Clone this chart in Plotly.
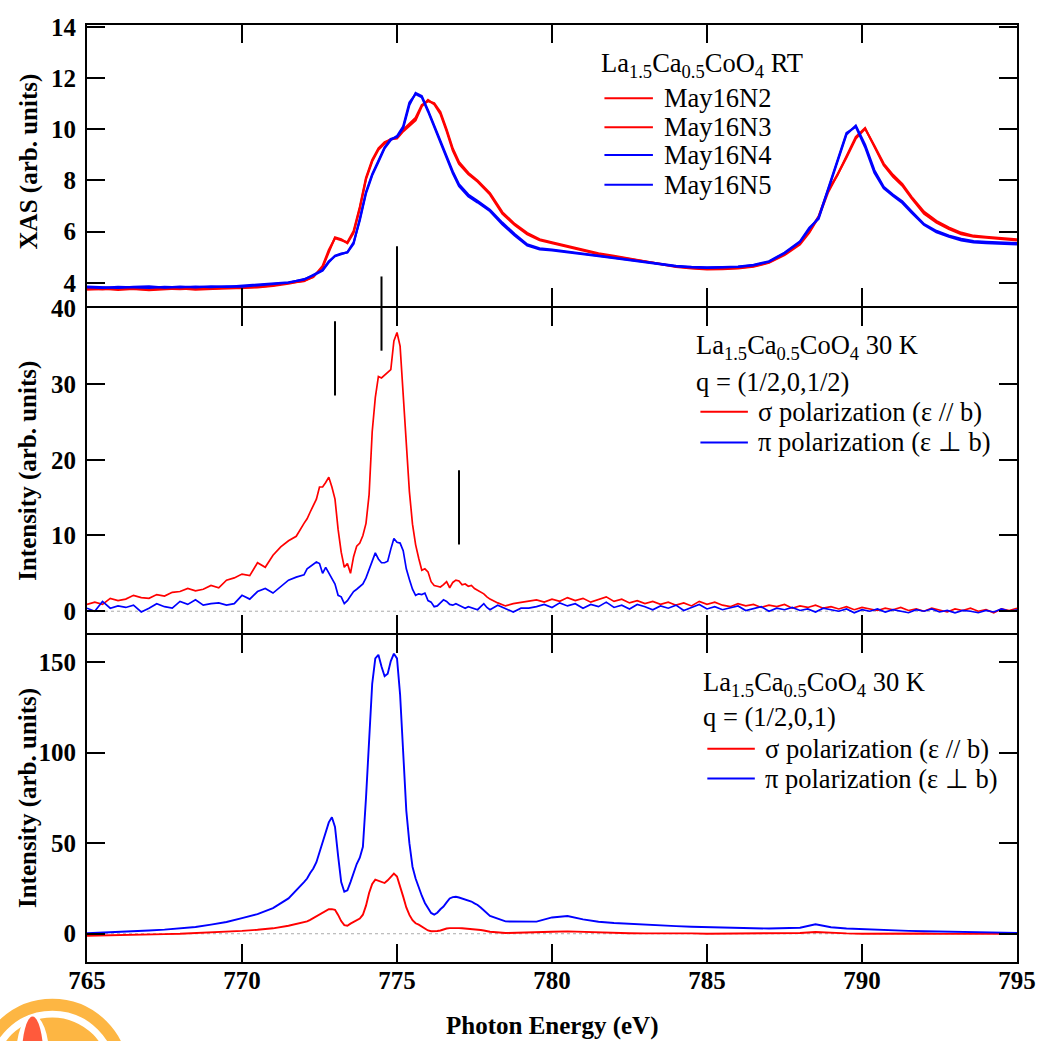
import numpy as np
import plotly.graph_objects as go
from plotly.subplots import make_subplots

# ---------------- XAS (room temperature), four scans ----------------
E_xas = [765.0, 765.5, 766.0, 766.5, 767.0, 767.5, 768.0, 768.5, 769.0, 769.5,
         770.0, 770.5, 771.0, 771.5, 772.0, 772.3, 772.6, 772.8, 773.0, 773.2,
         773.4, 773.6, 773.8, 774.0, 774.2, 774.4, 774.6, 774.8, 775.0, 775.2,
         775.4, 775.6, 775.8, 776.0, 776.2, 776.4, 776.6, 776.8, 777.0, 777.3,
         777.6, 778.0, 778.4, 778.8, 779.2, 779.6, 780.0, 780.5, 781.0, 781.5,
         782.0, 782.5, 783.0, 783.5, 784.0, 784.5, 785.0, 785.5, 786.0, 786.5,
         787.0, 787.5, 788.0, 788.3, 788.6, 788.9, 789.2, 789.5, 789.8, 790.1,
         790.4, 790.7, 791.0, 791.3, 791.6, 792.0, 792.4, 792.8, 793.2, 793.6,
         794.0, 794.5, 795.0]

xas_N2 = [3.76, 3.74, 3.78, 3.75, 3.74, 3.77, 3.75, 3.78, 3.77, 3.80,
          3.79, 3.84, 3.90, 4.00, 4.06, 4.24, 4.60, 5.20, 5.78, 5.70,
          5.55, 5.95, 6.90, 8.05, 8.75, 9.20, 9.45, 9.62, 9.64, 9.92,
          10.15, 10.35, 10.90, 11.15, 10.98, 10.60, 9.93, 9.17, 8.65, 8.25,
          7.95, 7.45, 6.70, 6.25, 5.90, 5.66, 5.55, 5.40, 5.25, 5.12,
          5.02, 4.92, 4.82, 4.72, 4.64, 4.58, 4.55, 4.56, 4.58, 4.65,
          4.80, 5.12, 5.55, 6.00, 6.60, 7.60, 8.20, 8.95, 9.70, 10.05,
          9.30, 8.60, 8.15, 7.80, 7.30, 6.70, 6.35, 6.10, 5.90, 5.80,
          5.76, 5.72, 5.66]

xas_N3 = [3.73, 3.77, 3.72, 3.76, 3.71, 3.74, 3.78, 3.73, 3.76, 3.78,
          3.81, 3.82, 3.88, 3.97, 4.08, 4.22, 4.66, 5.28, 5.74, 5.66,
          5.58, 6.02, 6.96, 8.10, 8.80, 9.25, 9.50, 9.60, 9.68, 9.98,
          10.20, 10.45, 10.95, 11.10, 11.02, 10.68, 10.00, 9.25, 8.72, 8.30,
          8.00, 7.50, 6.76, 6.30, 5.95, 5.70, 5.58, 5.44, 5.28, 5.15,
          5.05, 4.95, 4.84, 4.74, 4.62, 4.56, 4.52, 4.53, 4.56, 4.63,
          4.78, 5.08, 5.50, 5.96, 6.56, 7.52, 8.18, 8.90, 9.64, 10.02,
          9.36, 8.66, 8.22, 7.86, 7.36, 6.78, 6.42, 6.16, 5.96, 5.84,
          5.80, 5.74, 5.70]

xas_N4 = [3.82, 3.80, 3.84, 3.81, 3.80, 3.84, 3.82, 3.85, 3.83, 3.86,
          3.85, 3.90, 3.94, 4.00, 4.14, 4.28, 4.47, 4.80, 5.06, 5.14,
          5.18, 5.52, 6.50, 7.55, 8.25, 8.75, 9.30, 9.62, 9.70, 10.05,
          10.95, 11.42, 11.30, 10.75, 10.15, 9.50, 8.90, 8.35, 7.85, 7.45,
          7.20, 6.85, 6.35, 5.90, 5.50, 5.35, 5.30, 5.22, 5.14, 5.06,
          4.98, 4.90, 4.82, 4.74, 4.66, 4.62, 4.60, 4.61, 4.63, 4.70,
          4.84, 5.18, 5.62, 6.15, 6.50, 7.60, 8.70, 9.80, 10.15, 9.40,
          8.40, 7.75, 7.45, 7.18, 6.80, 6.30, 6.03, 5.85, 5.72, 5.63,
          5.60, 5.58, 5.55]

xas_N5 = [3.85, 3.83, 3.80, 3.84, 3.86, 3.81, 3.85, 3.82, 3.86, 3.84,
          3.88, 3.92, 3.96, 4.02, 4.12, 4.30, 4.50, 4.84, 5.04, 5.12,
          5.20, 5.58, 6.44, 7.50, 8.20, 8.72, 9.26, 9.58, 9.74, 10.12,
          11.05, 11.38, 11.25, 10.70, 10.08, 9.44, 8.84, 8.28, 7.78, 7.38,
          7.14, 6.80, 6.28, 5.84, 5.46, 5.30, 5.27, 5.20, 5.12, 5.04,
          4.96, 4.88, 4.80, 4.72, 4.64, 4.60, 4.58, 4.60, 4.62, 4.68,
          4.82, 5.15, 5.60, 6.10, 6.55, 7.65, 8.76, 9.86, 10.10, 9.30,
          8.30, 7.70, 7.40, 7.12, 6.74, 6.26, 5.98, 5.80, 5.66, 5.58,
          5.55, 5.52, 5.50]

# ---------------- RXS at q = (1/2,0,1/2), 30 K ----------------
# scan grid: coarse tails, 0.1 eV steps across the L3 edge
E_half = np.round(np.concatenate([np.arange(765.0, 771.9, 0.25),
                                  np.arange(772.0, 778.05, 0.1),
                                  np.arange(778.25, 795.01, 0.25)]), 2)

sig_half = [
    # 765.00 - 771.75
    0.9, 1.2, 0.9, 1.7, 1.4, 1.6, 2.1, 1.8, 1.7, 2.2,
    2.0, 2.5, 2.6, 3.0, 2.7, 2.9, 3.4, 3.1, 4.1, 4.4,
    4.9, 4.7, 6.4, 5.8, 7.4, 8.5, 9.3, 9.9,
    # 772.0 - 778.0
    11.6, 12.2, 13.1, 14.0, 14.8, 16.4, 16.4, 17.0, 17.7, 16.4,
    14.8, 10.8, 7.8, 5.8, 6.3, 5.0, 7.2, 8.6, 9.0, 10.0,
    11.6, 15.4, 23.7, 28.2, 31.0, 30.8, 31.2, 31.5, 31.9, 35.7,
    36.8, 35.0, 28.8, 22.0, 15.8, 11.5, 8.8, 7.0, 5.4, 5.6,
    5.2, 3.9, 3.4, 3.3, 3.2, 3.5, 3.9, 3.1, 3.8, 4.1,
    4.0, 3.5, 3.6, 3.3, 3.4, 3.0, 2.8, 2.5, 2.3, 1.9,
    1.6,
    # 778.25 - 795.0
    1.1, 0.7, 1.0, 1.2, 1.4, 1.5, 1.2, 1.6, 1.3, 1.8,
    1.4, 1.7, 1.2, 1.5, 1.9, 1.3, 1.6, 1.1, 1.4, 1.0,
    1.3, 0.9, 1.2, 0.8, 1.1, 0.7, 1.3, 0.9, 1.2, 0.8,
    0.6, 1.0, 0.7, 0.9, 0.5, 0.8, 0.6, 0.9, 0.4, 0.7,
    0.5, 0.8, 0.4, 0.6, 0.3, 0.6, 0.2, 0.5, 0.3, 0.1,
    0.4, 0.2, 0.5, 0.1, 0.3, 0.0, 0.4, 0.2, -0.1, 0.3,
    0.1, 0.4, 0.0, 0.2, -0.2, 0.3, 0.1, 0.4]

pi_half = [
    # 765.00 - 771.75
    0.4, 0.0, 1.3, 0.4, 0.7, 0.5, 0.8, -0.1, 0.4, 1.0,
    0.6, 0.4, 1.3, 0.9, 1.5, 0.8, 1.0, 1.1, 0.8, 1.0,
    2.1, 1.6, 2.6, 3.0, 2.4, 3.3, 4.1, 4.5,
    # 772.0 - 778.0
    4.8, 5.6, 5.9, 6.2, 6.5, 6.3, 5.0, 5.8, 5.0, 4.3,
    3.6, 2.1, 1.9, 1.0, 1.4, 2.0, 2.6, 2.9, 3.2, 3.6,
    4.4, 5.6, 6.6, 7.7, 6.9, 6.4, 6.4, 6.6, 8.2, 9.6,
    9.1, 9.0, 8.0, 5.6, 4.2, 2.9, 2.1, 2.3, 2.2, 2.4,
    1.4, 1.2, 0.6, 0.7, 1.1, 1.5, 1.3, 0.9, 0.8, 1.0,
    0.8, 0.6, 0.4, 0.6, 0.5, 0.3, 0.2, 0.6, 1.0, 0.5,
    0.2,
    # 778.25 - 795.0
    0.8, 0.4, -0.1, 0.4, 0.4, 0.6, 0.9, 0.5, 1.1, 0.7,
    1.0, 0.4, 0.9, 0.6, 1.2, 0.5, 0.8, 0.3, 0.9, 0.6,
    0.2, 0.7, 0.4, 0.8, 0.1, 0.5, 0.9, 0.3, 0.6, 0.2,
    0.5, 0.7, 0.1, 0.4, 0.6, 0.0, 0.4, 0.2, 0.5, 0.1,
    0.3, -0.1, 0.4, 0.2, 0.0, 0.3, -0.2, 0.2, 0.0, 0.3,
    -0.1, 0.2, 0.0, -0.2, 0.2, 0.0, 0.3, -0.1, 0.1, -0.2,
    0.1, 0.0, -0.2, 0.1, -0.1, 0.3, 0.0, 0.2]

# ---------------- RXS at q = (1/2,0,1), 30 K ----------------
E_one = np.round(np.concatenate([np.arange(765.0, 771.6, 0.5),
                                 np.arange(772.0, 778.05, 0.1),
                                 np.arange(778.5, 795.01, 0.5)]), 2)

sig_one = [
    # 765.0 - 771.5
    -1.1, -1.0, -0.8, -0.6, -0.4, -0.2, 0.0, 0.3, 0.7, 1.1,
    1.6, 2.2, 3.0, 4.4,
    # 772.0 - 778.0
    6.2, 6.8, 7.7, 8.7, 9.7, 10.6, 11.8, 12.9, 13.5, 13.6,
    13.2, 10.4, 7.0, 4.8, 4.4, 5.6, 6.6, 7.6, 8.4, 10.5,
    15.5, 22.5, 27.5, 29.9, 29.2, 28.3, 28.0, 29.5, 31.5, 33.2,
    31.6, 26.5, 20.5, 14.5, 10.4, 7.5, 5.8, 5.0, 3.8, 2.6,
    1.8, 1.4, 1.3, 1.5, 1.8, 2.4, 2.9, 3.1, 3.2, 3.0,
    3.1, 3.0, 2.9, 2.8, 2.7, 2.6, 2.4, 2.1, 1.8, 1.4,
    1.1,
    # 778.5 - 795.0
    0.4, 0.5, 0.8, 1.1, 1.3, 1.0, 0.5, 0.4, 0.3, 0.2,
    0.3, 0.1, 0.2, 0.0, 0.1, -0.1, 0.0, 0.1, 0.2, 0.4,
    1.0, 0.4, 0.2, 0.0, 0.1, -0.1, 0.0, 0.1, -0.1, 0.0,
    0.1, 0.0, 0.1, 0.0]

pi_one = [
    # 765.0 - 771.5
    0.3, 0.6, 0.9, 1.3, 1.8, 2.3, 2.9, 3.7, 5.0, 6.5,
    8.6, 10.8, 14.2, 19.5,
    # 772.0 - 778.0
    28.5, 30.5, 33.5, 36.0, 39.5, 45.1, 51.5, 57.0, 61.5, 64.3,
    59.0, 43.0, 28.5, 23.2, 24.0, 28.5, 34.0, 38.5, 42.0, 48.0,
    75.0, 110.0, 138.0, 152.0, 154.0, 147.5, 142.2, 143.6, 150.5, 154.6,
    152.0, 132.0, 100.0, 68.0, 50.0, 37.0, 30.5, 25.5, 21.0, 17.0,
    14.0, 11.5, 10.6, 11.6, 13.5, 15.0, 17.3, 19.5, 20.2, 20.4,
    20.0, 19.5, 19.0, 18.5, 17.8, 16.8, 15.9, 14.5, 13.0, 11.5,
    9.8,
    # 778.5 - 795.0
    6.8, 6.6, 6.7, 9.0, 9.8, 7.9, 6.6, 5.9, 5.4, 5.0,
    4.6, 4.2, 3.9, 3.6, 3.4, 3.2, 3.0, 2.9, 2.9, 3.3,
    5.2, 3.6, 2.9, 2.5, 2.2, 1.9, 1.6, 1.4, 1.2, 1.0,
    0.8, 0.7, 0.6, 0.5]

# energies marked in the (1/2,0,1/2) panel, with the span of each bar (intensity units)
mark_E = [773.0, 774.5, 775.0, 777.0]
mark_lo = [28.5, 34.4, 38.3, 8.8]
mark_hi = [38.3, 44.2, 48.2, 18.6]

xas_names = ["May16N2", "May16N3", "May16N4", "May16N5"]
RED = "rgb(255,0,0)"
BLUE = "rgb(0,0,255)"

# ---------------- geometry (pixels) ----------------
W, H = 1048, 1041
LEFT, RIGHT, TOP, BOTTOM = 87, 1027, 17, 962
PW, PH = RIGHT - LEFT, BOTTOM - TOP
X_RANGE = [765, 795]
Y1_RANGE, Y2_RANGE, Y3_RANGE = [3.08, 14.08], [-2.85, 40.0], [-15.6, 165.05]


def px_x(px):
    return (px - LEFT) / PW


def px_y(py):
    return (BOTTOM - py) / PH


# panels share their border lines: each neighbour pair is offset by one line width
DOM1 = [px_y(300.7), 1.0]
DOM2 = [px_y(630.0), px_y(302.7)]
DOM3 = [0.0, px_y(632.0)]


def e_to_paper(e):
    return (e - X_RANGE[0]) / (X_RANGE[1] - X_RANGE[0])


def mid_to_paper(v):
    return DOM2[0] + (v - Y2_RANGE[0]) / (Y2_RANGE[1] - Y2_RANGE[0]) * (DOM2[1] - DOM2[0])


SERIF = "Liberation Serif"

fig = make_subplots(rows=3, cols=1, shared_xaxes=True, vertical_spacing=0)

for vals, name, col in zip([xas_N2, xas_N3, xas_N4, xas_N5], xas_names, [RED, RED, BLUE, BLUE]):
    fig.add_trace(go.Scatter(x=E_xas, y=vals, mode="lines", name=name,
                             line=dict(color=col, width=2.2), showlegend=False), row=1, col=1)

fig.add_trace(go.Scatter(x=E_half, y=sig_half, mode="lines", line=dict(color=RED, width=1.7),
                         showlegend=False), row=2, col=1)
fig.add_trace(go.Scatter(x=E_half, y=pi_half, mode="lines", line=dict(color=BLUE, width=1.7),
                         showlegend=False), row=2, col=1)
fig.add_trace(go.Scatter(x=E_one, y=sig_one, mode="lines", line=dict(color=RED, width=1.9),
                         showlegend=False), row=3, col=1)
fig.add_trace(go.Scatter(x=E_one, y=pi_one, mode="lines", line=dict(color=BLUE, width=1.9),
                         showlegend=False), row=3, col=1)

tickfont = dict(family=SERIF, size=25, color="black", weight="bold")
common_x = dict(range=X_RANGE, tick0=765, dtick=5, ticks="inside", ticklen=18, tickwidth=2,
                tickcolor="black", showline=True, linewidth=2, linecolor="black",
                mirror="allticks", showgrid=False, zeroline=False, tickfont=tickfont)
common_y = dict(ticks="inside", ticklen=18, tickwidth=2, tickcolor="black", showline=True,
                linewidth=2, linecolor="black", mirror="allticks", showgrid=False,
                zeroline=False, tickfont=tickfont, ticklabelstandoff=4)

fig.update_xaxes(**common_x)
fig.update_xaxes(showticklabels=False, row=1, col=1)
fig.update_xaxes(showticklabels=False, row=2, col=1)
fig.update_xaxes(showticklabels=True, ticklabelstandoff=-5, row=3, col=1)
fig.update_yaxes(**common_y)

fig.update_layout(
    width=W, height=H, autosize=False,
    margin=dict(l=LEFT, r=W - RIGHT, t=TOP, b=H - BOTTOM),
    paper_bgcolor="white", plot_bgcolor="white",
    font=dict(family=SERIF, color="black"),
    yaxis=dict(domain=DOM1, range=Y1_RANGE, tick0=4, dtick=2),
    yaxis2=dict(domain=DOM2, range=Y2_RANGE, tick0=0, dtick=10),
    yaxis3=dict(domain=DOM3, range=Y3_RANGE, tick0=0, dtick=50),
)

shapes = []
# dotted zero baselines
for yr in ["y2", "y3"]:
    shapes.append(dict(type="line", xref=yr.replace("y", "x") + " domain", yref=yr,
                       x0=0, x1=1, y0=0, y1=0, layer="below",
                       line=dict(color="rgb(170,170,170)", width=1, dash="dot")))
# energy marker bars
for e, lo, hi in zip(mark_E, mark_lo, mark_hi):
    shapes.append(dict(type="line", xref="paper", yref="paper",
                       x0=e_to_paper(e), x1=e_to_paper(e), y0=mid_to_paper(lo), y1=mid_to_paper(hi),
                       line=dict(color="black", width=2)))

annotations = []
LEG = dict(family=SERIF, size=26.5, color="black")


def legend_line(x0, x1, y, color):
    shapes.append(dict(type="line", xref="paper", yref="paper", x0=px_x(x0), x1=px_x(x1),
                       y0=px_y(y), y1=px_y(y), line=dict(color=color, width=2)))


def legend_text(x, y, text):
    annotations.append(dict(xref="paper", yref="paper", x=px_x(x), y=px_y(y), text=text,
                            showarrow=False, xanchor="left", yanchor="middle", font=LEG,
                            borderpad=0))


COMP = "La<sub>1.5</sub>Ca<sub>0.5</sub>CoO<sub>4</sub>"

# top legend
legend_text(606, 57, COMP + " RT")
for yy, name, col in zip([91, 120, 148, 178], xas_names, [RED, RED, BLUE, BLUE]):
    legend_line(610, 659, yy, col)
    legend_text(669, yy, name)

# middle legend
legend_text(702, 342, COMP + " 30 K")
legend_text(702, 377, "q = (1/2,0,1/2)")
legend_line(707, 755, 407, RED)
legend_text(764, 407, "σ polarization (ε // b)")
legend_line(707, 755, 438, BLUE)
legend_text(764, 438, "π polarization (ε ⊥ b)")

# bottom legend
legend_text(709, 682, COMP + " 30 K")
legend_text(709, 715, "q = (1/2,0,1)")
legend_line(714, 762, 747, RED)
legend_text(771, 747, "σ polarization (ε // b)")
legend_line(714, 762, 777, BLUE)
legend_text(771, 777, "π polarization (ε ⊥ b)")

# axis titles
TITLE = dict(family=SERIF, size=25, color="black", weight="bold")
for ytxt, ycen in [("XAS (arb. units)", 155), ("Intensity (arb. units)", 467),
                   ("Intensity (arb. units)", 797)]:
    annotations.append(dict(xref="paper", yref="paper", x=px_x(28), y=px_y(ycen), text=ytxt,
                            textangle=-90, showarrow=False, xanchor="center", yanchor="middle",
                            font=TITLE))
annotations.append(dict(xref="paper", yref="paper", x=px_x(557), y=px_y(1027),
                        text="Photon Energy (eV)", showarrow=False, xanchor="center",
                        yanchor="middle", font=TITLE))

# corner emblem (globe-like mark, cut by the page edge)
ORANGE = "rgb(253,182,67)"


def circ(cx, cy, rx, ry, **kw):
    d = dict(type="circle", xref="paper", yref="paper",
             x0=px_x(cx - rx), x1=px_x(cx + rx), y0=px_y(cy + ry), y1=px_y(cy - ry))
    d.update(kw)
    return d


shapes.append(circ(52, 1076, 71, 71, line=dict(color=ORANGE, width=12),
                   fillcolor="rgba(0,0,0,0)"))
shapes.append(circ(52, 1076, 58, 58, line=dict(width=0), fillcolor=ORANGE))
shapes.append(circ(32, 1060, 17, 45, line=dict(width=0), fillcolor="white"))
shapes.append(circ(32, 1060, 11, 43, line=dict(width=0), fillcolor="rgb(255,90,60)"))

fig.update_layout(shapes=shapes, annotations=annotations)

fig.write_html("out.html")
